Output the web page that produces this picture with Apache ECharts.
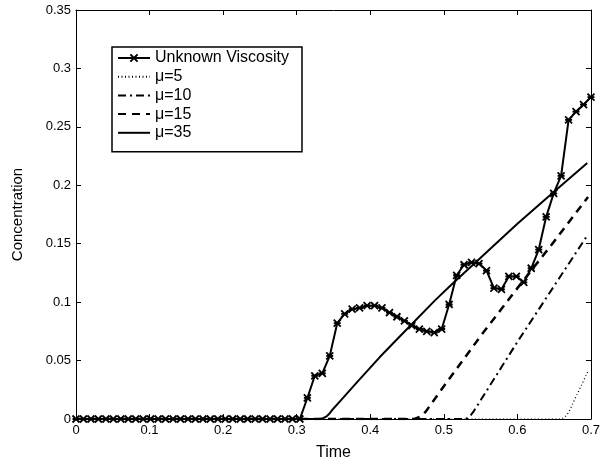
<!DOCTYPE html>
<html>
<head>
<meta charset="utf-8">
<script src="https://cdn.jsdelivr.net/npm/echarts@6/dist/echarts.min.js"></script>
<style>
  html, body { margin: 0; padding: 0; background: #fff; }
  #chart { width: 603px; height: 470px; }
</style>
</head>
<body>
<div id="chart"></div>
<script>
// sample times of the measured curve
const unknownTime = [
  0, 0.0101, 0.0203, 0.0304, 0.0406, 0.0507, 0.0609, 0.0710, 0.0812, 0.0913,
  0.1014, 0.1116, 0.1217, 0.1319, 0.1420, 0.1522, 0.1623, 0.1725, 0.1826, 0.1928,
  0.2029, 0.2130, 0.2232, 0.2333, 0.2435, 0.2536, 0.2638, 0.2739, 0.2841, 0.2942,
  0.3043, 0.3145, 0.3246, 0.3348, 0.3449, 0.3551, 0.3652, 0.3754, 0.3855, 0.3957,
  0.4058, 0.4159, 0.4261, 0.4362, 0.4464, 0.4565, 0.4667, 0.4768, 0.4870, 0.4971,
  0.5072, 0.5174, 0.5275, 0.5377, 0.5478, 0.5580, 0.5681, 0.5783, 0.5884, 0.5986,
  0.6087, 0.6188, 0.6290, 0.6391, 0.6493, 0.6594, 0.6696, 0.6797, 0.6899, 0.7000
]
const unknownConc = [
  0, 0, 0, 0, 0, 0, 0, 0, 0, 0,
  0, 0, 0, 0, 0, 0, 0, 0, 0, 0,
  0, 0, 0, 0, 0, 0, 0, 0, 0, 0,
  0, 0.018, 0.037, 0.039, 0.054, 0.082, 0.090, 0.094, 0.095, 0.097,
  0.097, 0.095, 0.091, 0.0875, 0.084, 0.080, 0.077, 0.075, 0.074, 0.077,
  0.098, 0.123, 0.132, 0.134, 0.133, 0.127, 0.112, 0.111, 0.122, 0.122,
  0.117, 0.129, 0.145, 0.173, 0.193, 0.208, 0.256, 0.263, 0.269, 0.2755
]

const mu5Time = [0, 0.66, 0.665, 0.67, 0.696]
const mu5Conc = [0, 0, 0.002, 0.006, 0.041]

const mu10Time = [0, 0.53, 0.535, 0.54, 0.6, 0.696]
const mu10Conc = [0, 0, 0.002, 0.006, 0.066, 0.158]

const mu15Time = [0, 0.46, 0.468, 0.475, 0.5, 0.55, 0.6, 0.65, 0.696]
const mu15Conc = [0, 0, 0.002, 0.006, 0.028, 0.071, 0.112, 0.152, 0.19]

const mu35Time = [0, 0.33, 0.335, 0.34, 0.345, 0.35, 0.36, 0.38, 0.40, 0.413, 0.45, 0.488, 0.512, 0.55, 0.60, 0.647, 0.695]
const mu35Conc = [0, 0, 0.0005, 0.002, 0.005, 0.009, 0.016, 0.030, 0.044, 0.053, 0.077, 0.1015, 0.116, 0.138, 0.167, 0.193, 0.219]

const xTicks = [0, 0.1, 0.2, 0.3, 0.4, 0.5, 0.6, 0.7]
const yTicks = [0, 0.05, 0.1, 0.15, 0.2, 0.25, 0.3, 0.35]

function pairs(xs, ys) {
  return xs.map((x, i) => [x, ys[i]])
}

const font = 'Liberation Sans, Arial, sans-serif'
const myChart = echarts.init(document.getElementById('chart'))

const baseX = {
  type: 'value',
  min: xTicks[0],
  max: xTicks[xTicks.length - 1],
  interval: 0.1,
  splitLine: { show: false },
  axisLine: { show: true, onZero: false, lineStyle: { color: '#000', width: 1 } },
  axisTick: { show: true, inside: true, length: 5, lineStyle: { color: '#000' } }
}
const baseY = {
  type: 'value',
  min: yTicks[0],
  max: yTicks[yTicks.length - 1],
  interval: 0.05,
  splitLine: { show: false },
  axisLine: { show: true, onZero: false, lineStyle: { color: '#000', width: 1 } },
  axisTick: { show: true, inside: true, length: 5, lineStyle: { color: '#000' } }
}

// plain lines: hidden symbol so the legend only shows the line sample
function plainLine(name, xs, ys, lineStyle) {
  return {
    name: name,
    type: 'line',
    symbol: 'circle',
    showSymbol: false,
    color: '#000',
    itemStyle: { color: 'rgba(0,0,0,0)', borderWidth: 0 },
    lineStyle: lineStyle,
    data: pairs(xs, ys),
    z: 2
  }
}

const option = {
  animation: false,
  backgroundColor: '#fff',
  grid: { left: 76, right: 12, top: 10, bottom: 51 },
  legend: {
    orient: 'vertical',
    left: 112,
    top: 47,
    padding: [3, 13, 11, 5],
    itemWidth: 32,
    itemHeight: 9,
    itemGap: 2.7,
    backgroundColor: '#fff',
    borderColor: '#000',
    borderWidth: 1.5,
    textStyle: { fontFamily: font, fontSize: 16, color: '#000' },
    data: ['Unknown Viscosity', 'μ=5', 'μ=10', 'μ=15', 'μ=35']
  },
  xAxis: [
    Object.assign({}, baseX, {
      position: 'bottom',
      name: 'Time',
      nameLocation: 'middle',
      nameGap: 26,
      nameTextStyle: { fontFamily: font, fontSize: 16, color: '#000' },
      axisLabel: {
        margin: 5,
        fontFamily: font,
        fontSize: 13,
        color: '#000',
        formatter: v => String(+v.toFixed(2))
      }
    }),
    Object.assign({}, baseX, { position: 'top', axisLabel: { show: false } })
  ],
  yAxis: [
    Object.assign({}, baseY, {
      position: 'left',
      name: 'Concentration',
      nameLocation: 'middle',
      nameGap: 51,
      nameTextStyle: { fontFamily: font, fontSize: 15, color: '#000' },
      axisLabel: {
        margin: 5,
        fontFamily: font,
        fontSize: 13,
        color: '#000',
        formatter: v => String(+v.toFixed(2))
      }
    }),
    Object.assign({}, baseY, { position: 'right', axisLabel: { show: false } })
  ],
  series: [
    plainLine('μ=5', mu5Time, mu5Conc, { color: '#000', width: 1.2, type: [1, 2.5] }),
    plainLine('μ=10', mu10Time, mu10Conc, { color: '#000', width: 2, type: [8, 4, 2, 4] }),
    plainLine('μ=15', mu15Time, mu15Conc, { color: '#000', width: 2.5, type: [8, 6] }),
    plainLine('μ=35', mu35Time, mu35Conc, { color: '#000', width: 2 }),
    {
      name: 'Unknown Viscosity',
      type: 'line',
      symbol: 'path://M0 0L10 10M10 0L0 10M0 5L10 5',
      symbolSize: 7,
      showAllSymbol: true,
      color: '#000',
      itemStyle: { color: '#000', borderColor: '#000', borderWidth: 1.8 },
      lineStyle: { color: '#000', width: 2 },
      data: pairs(unknownTime, unknownConc),
      z: 3
    }
  ]
}
myChart.setOption(option)
</script>
</body>
</html>
